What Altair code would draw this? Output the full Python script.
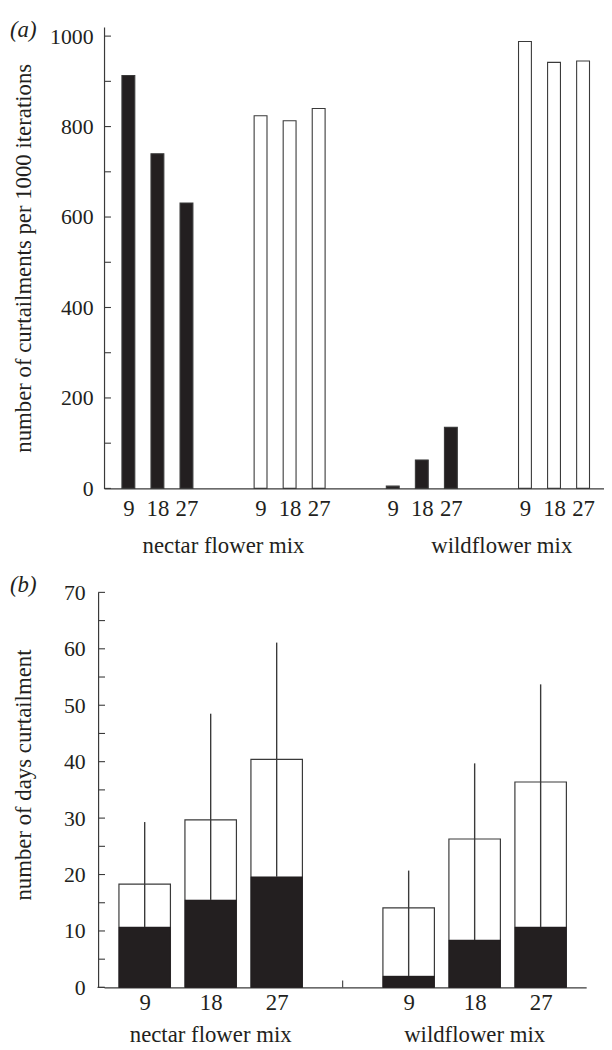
import altair as alt
import pandas as pd

SERIF = "Liberation Serif, Times New Roman, Times, serif"
INK = "#231f20"
LINE = "#3a3a3a"

densities = [9, 18, 27]
mixes = ["nectar flower mix", "wildflower mix"]

# ---- panel (a): curtailments per 1000 iterations ----
a_black_nectar = [913, 740, 631]
a_open_nectar = [824, 813, 840]
a_black_wild = [5, 63, 135]
a_open_wild = [988, 942, 945]
a_yticks = list(range(0, 1001, 100))
a_ylabels = list(range(0, 1001, 200))

# ---- panel (b): number of days curtailment ----
b_total_nectar = [18.3, 29.7, 40.4]
b_total_wild = [14.1, 26.3, 36.4]
b_black_nectar = [10.7, 15.5, 19.6]
b_black_wild = [2.0, 8.4, 10.7]
b_upper_nectar = [29.3, 48.5, 61.1]
b_upper_wild = [20.7, 39.7, 53.7]
b_yticks = list(range(0, 71, 5))
b_ylabels = list(range(0, 71, 10))

TICK = 7

# ---------------- panel (a) ----------------
STEP_A = 4.55
W_A, H_A = 505, 466
a_sets = [(a_black_nectar, INK, 0), (a_open_nectar, "white", 0),
          (a_black_wild, INK, 1), (a_open_wild, "white", 1)]
rows = []
for s, (vals, fill, mix) in enumerate(a_sets):
    for i, v in enumerate(vals):
        rows.append({"pos": round(s * STEP_A + i, 2), "value": v, "fill": fill,
                     "density": densities[i], "mix": mixes[mix]})
dfa = pd.DataFrame(rows)
a_positions = list(dfa["pos"])
a_lab = dfa.groupby("mix", sort=False)["pos"].mean().reset_index()

xsa = alt.Scale(domain=[-0.667, 16.2], nice=False, zero=False)
ysa = alt.Scale(domain=[0, 1020], nice=False)

a_label_expr = f"[9,18,27][round(datum.value - {STEP_A}*floor((datum.value+0.5)/{STEP_A}))]"
xaxis_a = alt.Axis(values=a_positions, labelExpr=a_label_expr, title=None,
                   labelPadding=9, labelFontSize=23)
yaxis_a = alt.Axis(values=a_ylabels, format="d", title="number of curtailments per 1000 iterations",
                   labelPadding=11, labelFontSize=22,
                   titleX=-81, titleY=H_A / 2, titleAngle=270,
                   titleAlign="center", titleBaseline="middle", titleFontSize=23)

bars_a = alt.Chart(dfa).mark_bar(size=13, stroke=LINE, strokeWidth=1.1).encode(
    x=alt.X("pos:Q", scale=xsa, axis=xaxis_a),
    y=alt.Y("value:Q", scale=ysa, axis=yaxis_a),
    fill=alt.Fill("fill:N", scale=None),
)
ticks_a = alt.Chart(pd.DataFrame({"value": a_yticks})).mark_rule(color=LINE, strokeWidth=1.1).encode(
    y=alt.Y("value:Q", scale=ysa, axis=yaxis_a), x=alt.value(0), x2=alt.value(TICK))
grp_a1 = alt.Chart(a_lab.iloc[[0]]).mark_text(font=SERIF, fontSize=23, color=INK,
                                              baseline="middle").encode(
    x=alt.X("pos:Q", scale=xsa, axis=xaxis_a), y=alt.value(H_A + 58), text="mix:N")
grp_a2 = alt.Chart(a_lab.iloc[[1]]).mark_text(font=SERIF, fontSize=23, color=INK,
                                              baseline="middle", dx=14).encode(
    x=alt.X("pos:Q", scale=xsa, axis=xaxis_a), y=alt.value(H_A + 58), text="mix:N")
tag_a = alt.Chart(pd.DataFrame({"t": ["(a)"]})).mark_text(
    font=SERIF, fontSize=23, fontStyle="italic", color=INK, align="left", baseline="middle").encode(
    x=alt.value(-95), y=alt.value(3), text="t:N")

panel_a = alt.layer(bars_a, ticks_a, grp_a1, grp_a2, tag_a).properties(width=W_A, height=H_A)

# ---------------- panel (b) ----------------
STEP_B = 4
B_OFF = 6  # y axis of (b) sits a little left of (a)'s
W_B, H_B = 487, 399
rows = []
for g, (tot, blk, up) in enumerate([(b_total_nectar, b_black_nectar, b_upper_nectar),
                                    (b_total_wild, b_black_wild, b_upper_wild)]):
    for i in range(3):
        rows.append({"pos": g * STEP_B + i, "total": tot[i], "black": blk[i], "upper": up[i],
                     "density": densities[i], "mix": mixes[g]})
dfb = pd.DataFrame(rows)
b_lab = dfb.groupby("mix", sort=False)["pos"].mean().reset_index()
b_gap = pd.DataFrame({"pos": [(2 + STEP_B) / 2]})

xsb = alt.Scale(domain=[-0.541, 6.615], nice=False, zero=False)
ysb = alt.Scale(domain=[0, 70], nice=False)

xaxis_b = alt.Axis(values=list(dfb["pos"]), labelExpr=f"[9,18,27][datum.value % {STEP_B}]",
                   title=None, labelPadding=4, labelFontSize=23)
yaxis_b = alt.Axis(values=b_ylabels, title="number of days curtailment", offset=B_OFF,
                   labelPadding=13, labelFontSize=22,
                   titleX=-75, titleY=184, titleAngle=270,
                   titleAlign="center", titleBaseline="middle", titleFontSize=23)

white_b = alt.Chart(dfb).mark_bar(size=52, fill="white", stroke=LINE, strokeWidth=1.2).encode(
    x=alt.X("pos:Q", scale=xsb, axis=xaxis_b),
    y=alt.Y("total:Q", scale=ysb, axis=yaxis_b),
)
black_b = alt.Chart(dfb).mark_bar(size=52, fill=INK, stroke=INK, strokeWidth=0.5).encode(
    x=alt.X("pos:Q", scale=xsb, axis=xaxis_b), y=alt.Y("black:Q", scale=ysb, axis=yaxis_b))
err_b = alt.Chart(dfb).mark_rule(color=LINE, strokeWidth=1.4).encode(
    x=alt.X("pos:Q", scale=xsb, axis=xaxis_b), y=alt.Y("black:Q", scale=ysb, axis=yaxis_b),
    y2="upper:Q")
ticks_b = alt.Chart(pd.DataFrame({"total": b_yticks})).mark_rule(color=LINE, strokeWidth=1.1).encode(
    y=alt.Y("total:Q", scale=ysb, axis=yaxis_b), x=alt.value(-B_OFF), x2=alt.value(TICK - B_OFF))
base_ext_b = alt.Chart(pd.DataFrame({"total": [0]})).mark_rule(color=LINE, strokeWidth=1.2).encode(
    y=alt.Y("total:Q", scale=ysb, axis=yaxis_b), x=alt.value(-B_OFF - 0.6), x2=alt.value(0.5))
gap_b = alt.Chart(b_gap).mark_rule(color=LINE, strokeWidth=1.1).encode(
    x=alt.X("pos:Q", scale=xsb, axis=xaxis_b), y=alt.value(H_B - TICK), y2=alt.value(H_B))
grp_b = alt.Chart(b_lab).mark_text(font=SERIF, fontSize=23, color=INK, baseline="middle").encode(
    x=alt.X("pos:Q", scale=xsb, axis=xaxis_b), y=alt.value(H_B + 48), text="mix:N")
tag_b = alt.Chart(pd.DataFrame({"t": ["(b)"]})).mark_text(
    font=SERIF, fontSize=23, fontStyle="italic", color=INK, align="left", baseline="middle").encode(
    x=alt.value(-95), y=alt.value(-7), text="t:N")

panel_b = alt.layer(white_b, black_b, err_b, ticks_b, base_ext_b, gap_b, grp_b, tag_b).properties(
    width=W_B, height=H_B)

chart = alt.concat(panel_a, panel_b, columns=1, spacing=17).properties(
    padding={"left": 2, "top": 6, "right": 0, "bottom": 0}
).configure_view(stroke=None).configure_axis(
    labelFont=SERIF, titleFont=SERIF, labelColor=INK, titleColor=INK,
    titleFontWeight="normal", domainColor=LINE, domainWidth=1.2,
    grid=False, ticks=False,
)

chart.save("out.html", embed_options={"renderer": "svg", "actions": False})
